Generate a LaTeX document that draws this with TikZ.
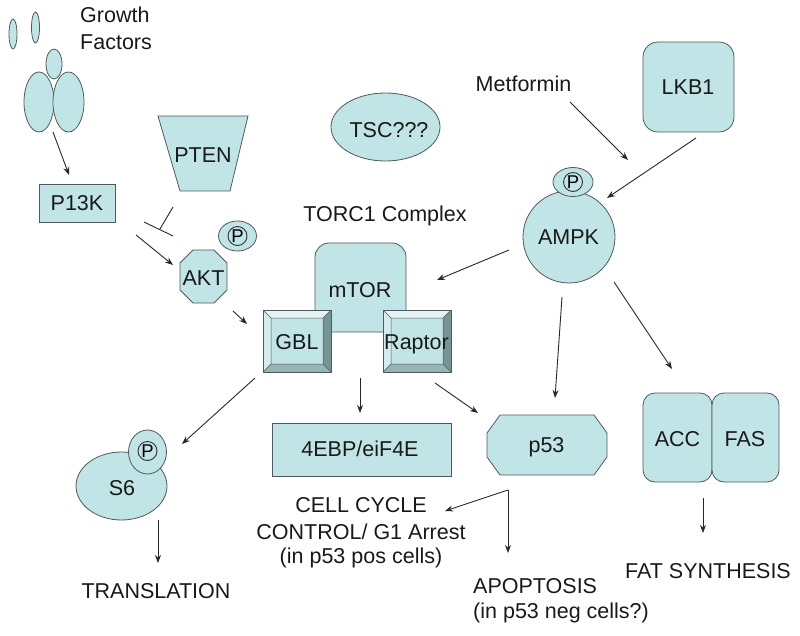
\documentclass[tikz,border=0pt]{standalone}
\usepackage{fontspec}
\setmainfont{Liberation Sans}
\usetikzlibrary{arrows.meta,shapes.geometric}
\definecolor{fillc}{RGB}{193,228,230}
\definecolor{linec}{RGB}{80,90,90}
\definecolor{arrc}{RGB}{40,40,40}
\definecolor{bevlight}{RGB}{226,243,244}
\definecolor{bevleft}{RGB}{212,236,238}
\definecolor{bevright}{RGB}{118,148,150}
\definecolor{bevbottom}{RGB}{150,180,182}
\definecolor{txtc}{RGB}{25,25,25}
\begin{document}
\begin{tikzpicture}[x=1pt,y=-1pt,
  font=\fontsize{21.5}{26}\selectfont,
  shp/.style={fill=fillc,draw=linec,line width=0.8pt},
  ell/.style={shp,ellipse,inner sep=0pt},
  conn/.style={draw=arrc,line width=0.9pt,-{Stealth[length=8pt,width=6pt]}},
  plain/.style={draw=arrc,line width=0.9pt},
  lbl/.style={inner sep=0pt,text=txtc},
  pmark/.style={circle,draw=black!80,line width=0.9pt,inner sep=0pt,minimum size=19pt,
     font=\fontsize{18.5}{18.5}\selectfont,text=black}]
\useasboundingbox (0,0) rectangle (800,636);

% ---------- Growth factors ----------
\node[ell,minimum width=8pt,minimum height=30pt] (gf1) at (13,34) {};
\node[ell,minimum width=8pt,minimum height=31pt] (gf2) at (35.5,27.5) {};
\node[ell,minimum width=16pt,minimum height=30pt] (rec0) at (54,64) {};
\node[ell,minimum width=30pt,minimum height=60pt] (rec1) at (39,102) {};
\node[ell,minimum width=31pt,minimum height=60pt] (rec2) at (68.5,102) {};
\node[lbl,anchor=base west] (gft1) at (80,23) {Growth};
\node[lbl,anchor=base west] (gft2) at (80,50) {Factors};

% ---------- P13K ----------
\draw[shp] (39,184) rectangle (115,222);
\node[lbl,anchor=base] (p13k) at (77,211) {P13K};

% ---------- PTEN ----------
\draw[shp] (158,116) -- (248,116) -- (230,191) -- (180,191) -- cycle;
\node[lbl,anchor=base] (pten) at (203,163) {PTEN};

% ---------- AKT ----------
\draw[shp] (193,250) -- (214,250) -- (227,263) -- (227,290) -- (214,303) -- (193,303) -- (180,290) -- (180,263) -- cycle;
\node[lbl,anchor=base] (akt) at (203.5,285) {AKT};
\node[ell,minimum width=38pt,minimum height=30pt] (aktp) at (237.5,236) {};
\node[pmark] (aktpm) at (237.5,236) {P};

% ---------- TSC ----------
\node[ell,minimum width=109pt,minimum height=68pt] (tscs) at (385.5,127) {};
\node[lbl,anchor=base] (tsc) at (389,138) {TSC???};

% ---------- TORC1 complex ----------
\node[lbl,anchor=base] (torc) at (385,222) {TORC1 Complex};
\draw[shp,rounded corners=14pt] (315,243) rectangle (406,332);
\node[lbl,anchor=base] (mtor) at (360,297) {mTOR};

% GBL bevel box
\fill[bevlight] (263,310) -- (331,310) -- (323,318) -- (271,318) -- cycle;
\fill[bevleft] (263,310) -- (271,318) -- (271,364) -- (263,372) -- cycle;
\fill[bevright] (331,310) -- (331,372) -- (323,364) -- (323,318) -- cycle;
\fill[bevbottom] (263,372) -- (331,372) -- (323,364) -- (271,364) -- cycle;
\fill[fillc] (271,318) rectangle (323,364);
\draw[linec,line width=0.5pt] (263,310) -- (271,318) (331,310) -- (323,318) (331,372) -- (323,364) (263,372) -- (271,364) (271,318) rectangle (323,364);
\draw[linec,line width=0.8pt] (263,310) rectangle (331,372);
\node[lbl,anchor=base] (gbl) at (297,349) {GBL};

% Raptor bevel box
\fill[bevlight] (383,310) -- (451,310) -- (443,318) -- (391,318) -- cycle;
\fill[bevleft] (383,310) -- (391,318) -- (391,364) -- (383,372) -- cycle;
\fill[bevright] (451,310) -- (451,372) -- (443,364) -- (443,318) -- cycle;
\fill[bevbottom] (383,372) -- (451,372) -- (443,364) -- (391,364) -- cycle;
\fill[fillc] (391,318) rectangle (443,364);
\draw[linec,line width=0.5pt] (383,310) -- (391,318) (451,310) -- (443,318) (451,372) -- (443,364) (383,372) -- (391,364) (391,318) rectangle (443,364);
\draw[linec,line width=0.8pt] (383,310) rectangle (451,372);
\node[lbl,anchor=base] (raptor) at (416.5,349) {Raptor};

% ---------- Metformin / LKB1 / AMPK ----------
\node[lbl,anchor=base] (metf) at (523.5,92) {Metformin};
\draw[shp,rounded corners=15pt] (643,42) rectangle (734,132);
\node[lbl,anchor=base] (lkb1) at (688,95) {LKB1};
\node[shp,circle,minimum size=92pt,inner sep=0pt] (ampks) at (569,237) {};
\node[ell,minimum width=40pt,minimum height=29pt] (ampkp) at (573,182) {};
\node[pmark] (ampkpm) at (573,182) {P};
\node[lbl,anchor=base] (ampk) at (568.5,245) {AMPK};

% ---------- 4EBP ----------
\draw[shp] (272,423) rectangle (451,476);
\node[lbl,anchor=base] (ebp) at (360,456) {4EBP/eiF4E};

% ---------- p53 ----------
\draw[shp] (500,415) -- (594,415) -- (607,433) -- (607,457) -- (594,475) -- (500,475) -- (487,457) -- (487,433) -- cycle;
\node[lbl,anchor=base] (p53) at (546.5,452) {p53};

% ---------- ACC / FAS ----------
\draw[shp,rounded corners=12pt] (643,393) rectangle (712,482);
\draw[shp,rounded corners=12pt] (712,393) rectangle (779,482);
\node[lbl,anchor=base] (acc) at (677.5,446) {ACC};
\node[lbl,anchor=base] (fas) at (745,446) {FAS};

% ---------- S6 ----------
\node[ell,minimum width=91pt,minimum height=68pt] (s6s) at (121.5,486) {};
\node[ell,minimum width=38pt,minimum height=44pt] (s6p) at (147.5,452) {};
\node[pmark] (s6pm) at (147.5,451) {P};
\node[lbl,anchor=base] (s6) at (122,495) {S6};

% ---------- outcome labels ----------
\node[lbl,anchor=base] (transl) at (156,598) {TRANSLATION};
\node[lbl,anchor=base] (cc1) at (361,512) {CELL CYCLE};
\node[lbl,anchor=base] (cc2) at (361,539) {CONTROL/ G1 Arrest};
\node[lbl,anchor=base] (cc3) at (361,563) {(in p53 pos cells)};
\node[lbl,anchor=base west] (apo1) at (473,593) {APOPTOSIS};
\node[lbl,anchor=base west] (apo2) at (473,618) {(in p53 neg cells?)};
\node[lbl,anchor=base] (fat) at (708,578) {FAT SYNTHESIS};

% ---------- connector end points ----------
\coordinate (rec-out) at (53,132);  \coordinate (p13k-in) at (69,175);
\coordinate (p13k-out) at (136,235); \coordinate (akt-in) at (173,265);
\coordinate (akt-out) at (233,311); \coordinate (gbl-in) at (247,324);
\coordinate (pten-out) at (173,207); \coordinate (pten-t) at (160,229);
\coordinate (bar-a) at (144,222); \coordinate (bar-b) at (173,236);
\coordinate (metf-out) at (570,102); \coordinate (ampk-in1) at (628,160);
\coordinate (lkb1-out) at (696,138); \coordinate (ampk-in2) at (607,198);
\coordinate (ampk-out1) at (509,250); \coordinate (mtor-in) at (437,280);
\coordinate (ampk-out2) at (562,297); \coordinate (p53-in1) at (555,398);
\coordinate (ampk-out3) at (614,282); \coordinate (acc-in) at (672,369);
\coordinate (gbl-out) at (255,378); \coordinate (s6-in) at (182,444);
\coordinate (cx-out) at (360,378); \coordinate (ebp-in) at (360,413);
\coordinate (rap-out) at (435,383); \coordinate (p53-in2) at (478,413);
\coordinate (p53-out) at (508,490); \coordinate (cc-in) at (445,511);
\coordinate (apo-in) at (508,553);
\coordinate (s6-out) at (158,520); \coordinate (tr-in) at (158,563);
\coordinate (acc-out) at (703,498); \coordinate (fat-in) at (703,533);

% ---------- connectors ----------
\draw[conn] (rec-out) -- (p13k-in);
\draw[conn] (p13k-out) -- (akt-in);
\draw[conn] (akt-out) -- (gbl-in);
\draw[plain] (pten-out) -- (pten-t);
\draw[plain] (bar-a) -- (bar-b);
\draw[conn] (metf-out) -- (ampk-in1);
\draw[conn] (lkb1-out) -- (ampk-in2);
\draw[conn] (ampk-out1) -- (mtor-in);
\draw[conn] (ampk-out2) -- (p53-in1);
\draw[conn] (ampk-out3) -- (acc-in);
\draw[conn] (gbl-out) -- (s6-in);
\draw[conn] (cx-out) -- (ebp-in);
\draw[conn] (rap-out) -- (p53-in2);
\draw[conn] (p53-out) -- (cc-in);
\draw[conn] (p53-out) -- (apo-in);
\draw[conn] (s6-out) -- (tr-in);
\draw[conn] (acc-out) -- (fat-in);
\end{tikzpicture}
\end{document}
